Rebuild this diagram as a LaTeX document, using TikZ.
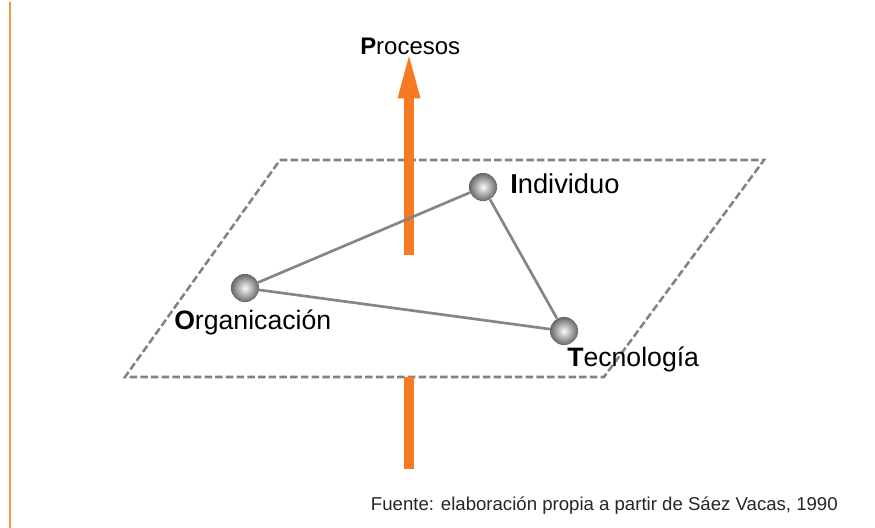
\documentclass[tikz,border=0pt]{standalone}
\usepackage{fontspec}
\setmainfont{Liberation Sans}
\definecolor{orangeA}{RGB}{246,122,34}
\definecolor{ruleC}{RGB}{243,150,60}
\definecolor{dashC}{RGB}{130,130,130}
\definecolor{lineC}{RGB}{135,132,132}
\definecolor{ballOut}{RGB}{105,100,100}
\definecolor{ballIn}{RGB}{250,250,250}
\tikzset{
  x=0.75pt,y=-0.75pt,
  lbl/.style={inner sep=0pt,anchor=base west,font=\fontsize{19.9bp}{22bp}\selectfont,text=black},
  lblwide/.style={lbl,font=\fontsize{20.4bp}{22bp}\selectfont},
  lblsmall/.style={lbl,font=\fontsize{17.9bp}{20bp}\selectfont},
  src/.style={inner sep=0pt,anchor=base east,font=\fontsize{13.9bp}{16bp}\selectfont,text=black!85},
  plane/.style={draw=dashC,line width=1.9bp,dash pattern=on 5.6bp off 2.4bp},
  edge/.style={draw=lineC,line width=2bp},
  shaft/.style={draw=orangeA,line width=7.6bp},
  ball/.style={circle,minimum size=21bp,inner sep=0pt,inner color=ballIn,outer color=ballOut,shade}
}
\begin{document}
\begin{tikzpicture}
\useasboundingbox (0,0) rectangle (875,528);
\fill[white] (0,0) rectangle (875,528);
\draw[ruleC,line width=1.5bp] (9.7,2) -- (9.7,528);
\coordinate (p1) at (280,160);
\coordinate (p2) at (764,160);
\coordinate (p3) at (604,377);
\coordinate (p4) at (125,377);
\draw[plane] (p1) -- (p2) -- (p3) -- (p4) -- cycle;
\coordinate (a1) at (409,255);
\coordinate (a2) at (409,98);
\coordinate (a3) at (409,469);
\coordinate (a4) at (409,377);
\draw[shaft] (a1) -- (a2);
\fill[orangeA] (409,56) -- (420.5,98.5) -- (397.5,98.5) -- cycle;
\draw[shaft] (a3) -- (a4);
\node[ball] (I) at (483,187) {};
\node[ball] (O) at (245,288) {};
\node[ball] (T) at (564,331) {};
\draw[edge] (O) -- (I);
\draw[edge] (I) -- (T);
\draw[edge] (O) -- (T);
\node[lblsmall] (tP) at (360,54.5) {\textbf{P}rocesos};
\node[lblwide] (tI) at (510,193) {\textbf{I}ndividuo};
\node[lbl] (tO) at (174,329.5) {\textbf{O}rganicación};
\node[lbl] (tT) at (567,366) {\textbf{T}ecnología};
\node[src] (tF) at (838,510.5) {Fuente: elaboración propia a partir de Sáez Vacas, 1990};
\end{tikzpicture}
\end{document}
